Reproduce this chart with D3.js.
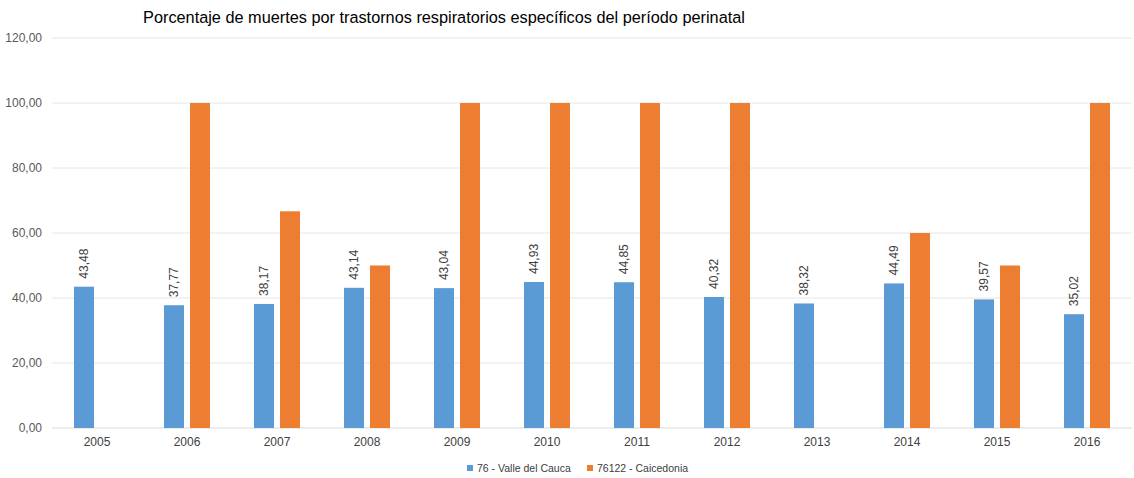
<html>
    <head>
        <script src="https://d3js.org/d3.v7.min.js"></script>
    </head>
    <body style="margin:0;background:#fff">
        <script>
            var years = ["2005","2006","2007","2008","2009","2010","2011","2012","2013","2014","2015","2016"];
            var valle = [43.48, 37.77, 38.17, 43.14, 43.04, 44.93, 44.85, 40.32, 38.32, 44.49, 39.57, 35.02];
            var caicedonia = [null, 100, 66.67, 50, 100, 100, 100, 100, null, 60, 50, 100];
            var seriesNames = ["76 - Valle del Cauca", "76122 - Caicedonia"];
            var yTicks = [0, 20, 40, 60, 80, 100, 120];

            var font = "'Liberation Sans Narrow', 'Arial Narrow', Arial, sans-serif";
            var colors = ["#5B9BD5", "#ED7D31"];

            var margin = {top: 38, right: 2, bottom: 50, left: 52},
                width = 1134 - margin.left - margin.right,
                height = 478 - margin.top - margin.bottom;

            var svg = d3.select("body").append("svg")
                .attr("width", 1134).attr("height", 478)
                .style("font-family", font);

            var g = svg.append("g")
                .attr("transform", "translate(" + margin.left + "," + margin.top + ")");

            var x = d3.scaleBand().domain(years).range([0, width]);
            var y = d3.scaleLinear().domain([0, 120]).range([height, 0]);

            // gridlines
            g.selectAll(".grid").data(yTicks).enter().append("line")
                .attr("x1", 0).attr("x2", width)
                .attr("y1", function(d) { return y(d); })
                .attr("y2", function(d) { return y(d); })
                .attr("stroke", function(d) { return d === 0 ? "#d9d9d9" : "#e6e6e6"; })
                .attr("stroke-width", 1);

            // y labels
            g.selectAll(".ylab").data(yTicks).enter().append("text")
                .attr("x", -10).attr("y", function(d) { return y(d); })
                .attr("dy", "0.35em").attr("text-anchor", "end")
                .style("font-size", "12px").style("fill", "#595959")
                .text(function(d) { return d3.format(".2f")(d).replace(".", ","); });

            // x labels
            g.selectAll(".xlab").data(years).enter().append("text")
                .attr("x", function(d) { return x(d) + x.bandwidth() / 2; })
                .attr("y", height + 18)
                .attr("text-anchor", "middle")
                .style("font-size", "12px").style("fill", "#404040")
                .text(function(d) { return d; });

            // bars
            var barW = 20, gap = 6;
            [valle, caicedonia].forEach(function(vals, s) {
                var offset = s === 0 ? -gap / 2 - barW : gap / 2;
                var data = vals.map(function(v, i) { return {year: years[i], v: v}; })
                    .filter(function(d) { return d.v !== null; });
                g.selectAll(".b" + s).data(data).enter().append("rect")
                    .attr("x", function(d) { return x(d.year) + x.bandwidth() / 2 + offset; })
                    .attr("y", function(d) { return y(d.v); })
                    .attr("width", barW)
                    .attr("height", function(d) { return y(0) - y(d.v); })
                    .style("fill", colors[s]);
            });

            // value labels on blue bars
            g.selectAll(".vlab").data(valle).enter().append("text")
                .attr("transform", function(d, i) {
                    var cx = x(years[i]) + x.bandwidth() / 2 - gap / 2 - barW / 2;
                    return "translate(" + (cx + 4) + "," + (y(d) - 8) + ") rotate(-90)";
                })
                .style("font-size", "12px").style("fill", "#404040")
                .text(function(d) { return d3.format(".2f")(d).replace(".", ","); });

            // title
            svg.append("text")
                .attr("x", 444).attr("y", 23)
                .attr("text-anchor", "middle")
                .style("font-size", "16.3px").style("fill", "#000")
                .text("Porcentaje de muertes por trastornos respiratorios específicos del período perinatal");

            // legend
            var legendX = [467, 587];
            seriesNames.forEach(function(name, s) {
                svg.append("rect").attr("x", legendX[s]).attr("y", 465).attr("width", 6).attr("height", 6)
                    .style("fill", colors[s]);
                svg.append("text").attr("x", legendX[s] + 10).attr("y", 468).attr("dy", "0.35em")
                    .style("font-size", "10.5px").style("fill", "#404040")
                    .text(name);
            });
        </script>
    </body>
</html>
